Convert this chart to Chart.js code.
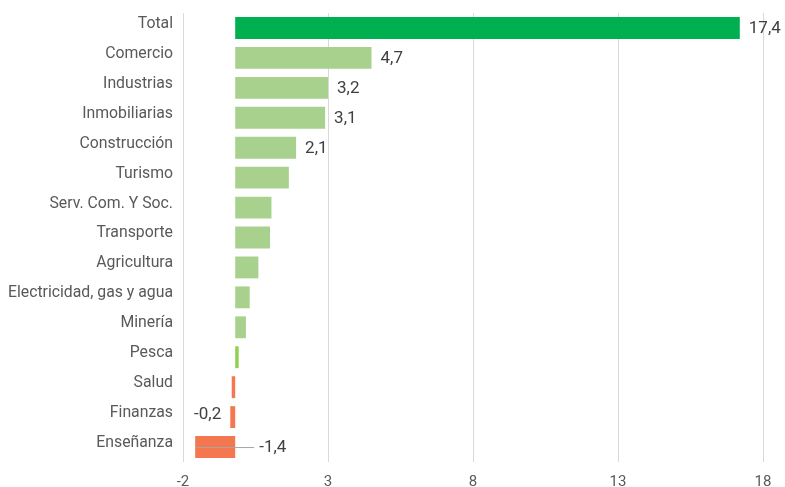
<!DOCTYPE html>
<html>
<head>
<meta charset="utf-8">
<script src="https://cdn.jsdelivr.net/npm/chart.js@4"></script>
<style>
  body { margin: 0; background: #fff; }
  #wrap { width: 785px; height: 487px; }
</style>
</head>
<body>
<div id="wrap"><canvas id="chart"></canvas></div>
<script>
// Data
const categories = ['Total', 'Comercio', 'Industrias', 'Inmobiliarias', 'Construcción', 'Turismo',
  'Serv. Com. Y Soc.', 'Transporte', 'Agricultura', 'Electricidad, gas y agua', 'Minería',
  'Pesca', 'Salud', 'Finanzas', 'Enseñanza'];
const values = [17.4, 4.7, 3.2, 3.1, 2.1, 1.85, 1.25, 1.2, 0.8, 0.5, 0.37, 0.12, -0.12, -0.17, -1.38];
const valueLabels = ['17,4', '4,7', '3,2', '3,1', '2,1', '', '', '', '', '', '', '', '', '-0,2', '-1,4'];
const barColors = ['#00b050', '#a9d18e', '#a9d18e', '#a9d18e', '#a9d18e', '#a9d18e', '#a9d18e',
  '#a9d18e', '#a9d18e', '#a9d18e', '#a9d18e', '#92d050', '#f4774f', '#f4774f', '#f4774f'];
// axis ticks sit at -1.8 + 5k and are shown rounded
const tickValues = [-1.8, 3.2, 8.2, 13.2, 18.2];
const tickLabels = ['-2', '3', '8', '13', '18'];

// Draw the value labels next to the bars
const valueLabelPlugin = {
  id: 'valueLabels',
  afterDatasetsDraw(chart) {
    const ctx = chart.ctx;
    const x = chart.scales.x;
    const meta = chart.getDatasetMeta(0);
    ctx.save();
    ctx.font = '17px Roboto';
    ctx.fillStyle = '#404040';
    ctx.textBaseline = 'middle';
    meta.data.forEach((bar, i) => {
      const txt = valueLabels[i];
      if (!txt) return;
      const v = values[i];
      if (v >= 0) {
        ctx.textAlign = 'left';
        ctx.fillText(txt, bar.x + 9, bar.y + 1);
      } else if (v > -1) {
        ctx.textAlign = 'right';
        ctx.fillText(txt, bar.x - 9, bar.y - 2);
      } else {
        // label placed past the axis with a leader line back to the bar
        const x0 = x.getPixelForValue(0);
        ctx.strokeStyle = '#a6a6a6';
        ctx.lineWidth = 1;
        ctx.beginPath();
        ctx.moveTo(bar.x + 1, bar.y + 0.5);
        ctx.lineTo(x0 + 19, bar.y + 0.5);
        ctx.stroke();
        ctx.textAlign = 'left';
        ctx.fillText(txt, x0 + 24, bar.y + 1);
      }
    });
    ctx.restore();
  }
};

new Chart(document.getElementById('chart'), {
  type: 'bar',
  data: {
    labels: categories,
    datasets: [{
      data: values,
      backgroundColor: barColors,
      borderWidth: 0,
      barPercentage: 0.73,
      categoryPercentage: 1
    }]
  },
  options: {
    indexAxis: 'y',
    responsive: true,
    maintainAspectRatio: false,
    animation: false,
    layout: { padding: { left: 0, right: 22, top: 13, bottom: 0 } },
    plugins: {
      legend: { display: false },
      tooltip: { enabled: false }
    },
    scales: {
      x: {
        min: -1.8,
        max: 18.2,
        afterBuildTicks(scale) {
          scale.ticks = tickValues.map(v => ({ value: v }));
        },
        afterFit(scale) { scale.height = 25; },
        grid: { color: '#d9d9d9', drawTicks: false },
        border: { display: false },
        ticks: {
          padding: 11,
          color: '#595959',
          font: { family: 'Roboto', size: 15 },
          callback: (val, idx) => tickLabels[idx]
        }
      },
      y: {
        afterFit(scale) {
          scale.width = 183;
          scale.paddingTop = 0;
          scale.paddingBottom = 0;
        },
        grid: { display: false },
        border: { display: false },
        ticks: {
          padding: 2,
          color: '#595959',
          // the category names sit a little above the bar centres
          font: { family: 'Roboto', size: 15.8, lineHeight: 0.5 },
          autoSkip: false,
          callback: (val, idx) => [categories[idx], '']
        }
      }
    }
  },
  plugins: [valueLabelPlugin]
});
</script>
</body>
</html>
